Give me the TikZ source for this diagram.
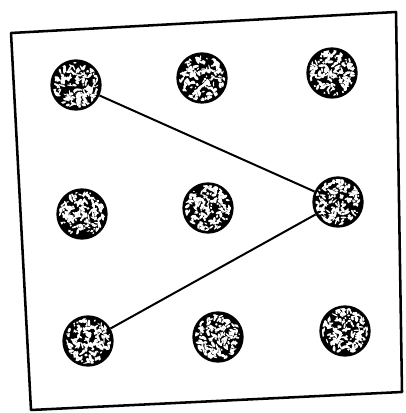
\documentclass[tikz,border=0pt]{standalone}
\usetikzlibrary{calc}
\tikzset{
  dotnode/.style={circle, fill=black, draw=black, line width=1pt, minimum size=37.5pt, inner sep=0pt},
  frameline/.style={line width=1.9pt, line join=round},
  linkline/.style={line width=1.5pt},
  speck/.style={fill=white}
}
\newcommand{\speckdot}[3]{%
  \node[dotnode] (#1) at (#2,#3) {};
  \begin{scope}
    \clip (#2,#3) circle [radius=23];
    \foreach \k in {1,...,170} {
      \pgfmathsetmacro{\aa}{rnd*360}
      \pgfmathsetmacro{\rr}{sqrt(rnd)*22.5}
      \pgfmathsetmacro{\ww}{1.0+rnd*2.4}
      \pgfmathsetmacro{\hh}{0.6+rnd*1.0}
      \pgfmathsetmacro{\rot}{rnd*180}
      \fill[speck, rotate around={\rot:($(#2,#3)+(\aa:\rr)$)}] ($(#2,#3)+(\aa:\rr)$) ellipse [x radius=\ww, y radius=\hh];
    }
  \end{scope}
}
\begin{document}
\begin{tikzpicture}[x=0.75pt,y=-0.75pt]
\useasboundingbox (0,0) rectangle (405,413);
\pgfmathsetseed{4242}
\coordinate (c1) at (11,33);
\coordinate (c2) at (396,12);
\coordinate (c3) at (402,392);
\coordinate (c4) at (31,410);
\draw[frameline] (c1) -- (c2) -- (c3) -- (c4) -- cycle;
\speckdot{d11}{76}{85}
\speckdot{d12}{202}{78}
\speckdot{d13}{332}{73}
\speckdot{d21}{82}{214}
\speckdot{d22}{208}{208}
\speckdot{d23}{338}{202}
\speckdot{d31}{88}{341}
\speckdot{d32}{218}{337}
\speckdot{d33}{345}{331}
\draw[linkline] (d11) -- (d23) -- (d31);
\end{tikzpicture}
\end{document}
